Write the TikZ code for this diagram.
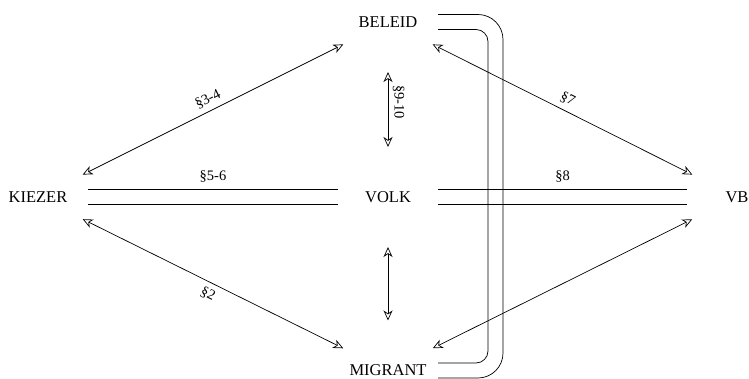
\documentclass[tikz,border=0pt]{standalone}
\usepackage{fontspec}
\setmainfont{Liberation Serif}
\usetikzlibrary{arrows.meta}
\begin{document}
\begin{tikzpicture}[x=1pt,y=1pt,line width=0.7pt]
\tikzstyle{term}=[circle,minimum size=100pt,inner sep=0pt,outer sep=0pt,font=\fontsize{16.5}{19}\selectfont]
\tikzstyle{rel}=[{Stealth[open,length=10pt,width=9pt,inset=3pt]}-{Stealth[open,length=10pt,width=9pt,inset=3pt]}]
\tikzstyle{lbl}=[font=\fontsize{14.5}{17}\selectfont]
\useasboundingbox (0,0) rectangle (749,378);
\node[term] (beleid) at (388,356) {BELEID};
\node[term] (volk) at (388,181) {VOLK};
\node[term] (migrant) at (388,7.5) {MIGRANT};
\node[term] (kiezer) at (38,181) {KIEZER};
\node[term] (vb) at (737,181) {VB};
\draw[rel] (kiezer) -- node[lbl,midway,sloped,above=2pt] {§3-4} (beleid);
\draw[rel] (beleid) -- node[lbl,midway,sloped,above=2pt] {§7} (vb);
\draw[rel] (kiezer) -- node[lbl,midway,sloped,below=2pt] {§2} (migrant);
\draw[rel] (migrant) -- (vb);
\draw[rel] (beleid) -- node[lbl,pos=0.4,sloped,above=1pt] {§9-10} (volk);
\draw[rel] (volk) -- (migrant);
\draw[double distance=14.3pt] (kiezer) -- node[lbl,above=11pt] {§5-6} (volk);
\draw[double distance=14.3pt] (volk) -- node[lbl,above=11pt] {§8} (vb);
% bracket between beleid and migrant
\draw[rounded corners=25pt] ([yshift=7.5pt]beleid.east) -| ([xshift=115pt]volk.center) |- ([yshift=-7.5pt]migrant.east);
\draw[rounded corners=12pt] ([yshift=-7.5pt]beleid.east) -| ([xshift=100pt]volk.center) |- ([yshift=7.5pt]migrant.east);
\end{tikzpicture}
\end{document}
